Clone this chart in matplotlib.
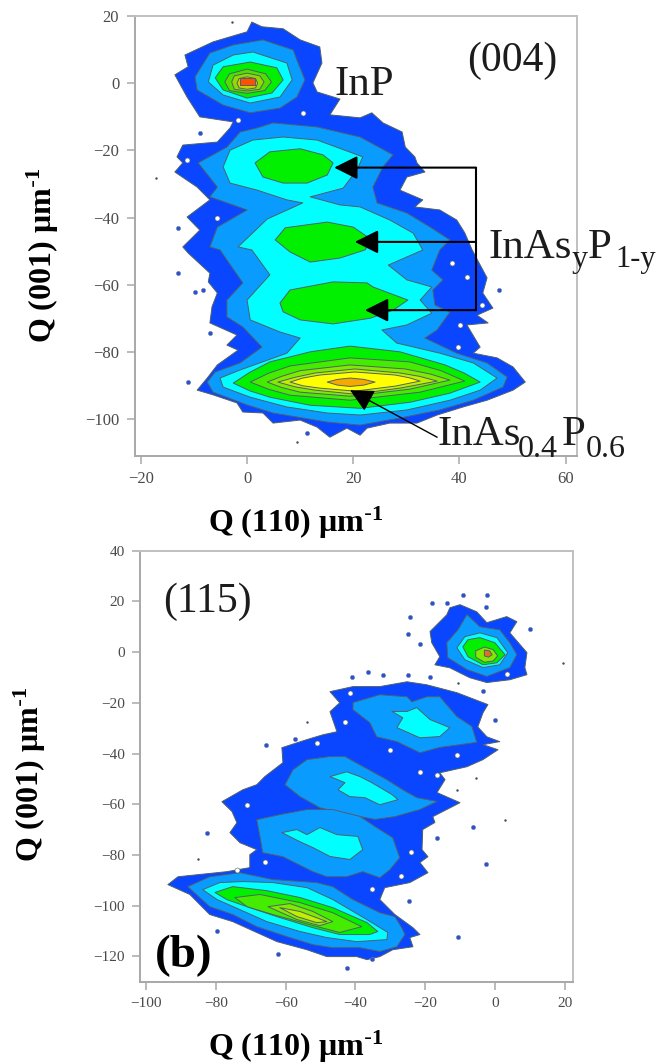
import matplotlib
matplotlib.use("Agg")
import matplotlib.pyplot as plt

plt.rcParams['font.family'] = ['Liberation Serif', 'DejaVu Serif']
plt.rcParams['mathtext.default'] = 'regular'

# contour colours, lowest to highest level
c_blue = '#0a46ff'
c_sky = '#0a9bff'
c_cyan = '#00ffff'
c_green = '#00f000'
c_lime1 = '#44ec00'
c_lime2 = '#80ea00'
c_lime3 = '#c0f000'
c_yellow = '#ffff00'
c_orange = '#f5a800'
c_red = '#ff5000'
edge = '#50606a'
spine = '#a8a8a8'

# ---- (004) map, contours, (Q110, Q001)
a_outer = [(0.9,18.2),(2.8,16.8),(6.8,16.2),(10,12.9),(13.7,10.8),(14.1,6),(12.4,0.1),(13.2,-2.6),(17.5,-4.7),
           (15.6,-9.4),(21.3,-10.3),(23.5,-8.8),(25.6,-11.8),(29.2,-14.5),(29.8,-19),(31.6,-21.9),(32,-23.7),
           (33.5,-26.4),(30.1,-27.9),(28.8,-31.8),(33.1,-34.7),(31.6,-36.8),(36.3,-37.7),(39.5,-40.7),(41,-44.5),
           (42.4,-49.6),(45.2,-57.9),(44.4,-62.4),(46.3,-66.9),(43.3,-69),(45.4,-71.3),(41.4,-71.9),(43.9,-78.5),
           (42.6,-80.3),(47.1,-81.7),(50.1,-84.4),(52.4,-88.9),(50.1,-91.3),(45.2,-94.3),(40.7,-96.3),(35.8,-98.7),
           (32,-101.1),(26.9,-101.1),(22.6,-102.6),(21.3,-104.7),(18.8,-102.6),(15.6,-105.3),(13.2,-102.3),(10,-100.2),
           (4.9,-101.1),(3,-98.1),(-0.8,-97.8),(-1.9,-95.1),(-6.4,-92.7),(-9.4,-91.3),(-7.5,-87.7),(-5.6,-83.8),
           (-1.7,-79.4),(-3.8,-77.9),(-1.9,-74.9),(-7,-71.3),(-6.6,-66.5),(-5.6,-62.4),(-7.3,-59.1),(-7,-56.5),
           (-11.1,-50.5),(-12.1,-48.7),(-8.9,-43.7),(-11.3,-39.8),(-7,-34.7),(-9.4,-30.9),(-13.6,-26.4),(-12.1,-23.7),
           (-13.2,-21.9),(-12.1,-18.4),(-5.6,-17.5),(-3.2,-13.3),(-2.6,-11.5),(-8.9,-10),(-11.3,-4.1),(-13.6,2.5),
           (-11.1,4.9),(-11.7,8.4),(-6.4,12.3),(0,15.3)]
a_sky_main = [(-1.3,-14.5),(1.9,-13.3),(4.9,-11.8),(13.2,-13),(21.3,-16),(27.5,-21.3),(25.6,-24.9),(23.7,-30.9),
              (24.5,-35.6),(30.1,-38.6),(34.5,-42.8),(38.2,-46.6),(36.3,-49.6),(34.8,-55.6),(36.9,-58.5),(35,-61.5),
              (35.4,-66),(38.2,-68.1),(35.8,-73.4),(33.5,-75.8),(39.5,-80.3),(45.2,-83.2),(49,-87.4),(48.2,-90.4),
              (42.6,-94.3),(36.3,-97.2),(28.8,-99.6),(21.3,-101.7),(15.1,-100.8),(4.9,-98.1),(0,-95.7),(-6.4,-91.9),
              (-7.5,-88.9),(-6,-85.9),(-1.3,-83.2),(2.8,-78.5),(-0.8,-72.5),(-3.8,-69.5),(-3.8,-64.5),(-0.8,-59.4),
              (-5.1,-49.6),(-7,-48.7),(-5.6,-42.8),(0,-37.7),(-7,-33.8),(-5.6,-30.9),(-9.2,-23.7),(-3.8,-19)]
a_cyan_main = [(1.1,-16.9),(6.8,-16),(13.2,-16.9),(21.8,-21.9),(20.7,-25.8),(18.1,-31.2),(11.9,-33.8),(17.5,-36.2),
               (21.3,-36.8),(26.9,-40.7),(31.3,-44.6),(33.1,-49.6),(26.6,-54.1),(30.1,-58.5),(34.8,-60.6),(32.6,-64.5),
               (34.8,-68.4),(30.1,-71.9),(25.4,-73.4),(28.2,-77.3),(36.3,-80.3),(42.6,-83.2),(47.1,-87.7),(43.9,-91.3),
               (38.2,-94.3),(30.1,-97.2),(21.3,-98.7),(15.1,-98.1),(7.5,-96.3),(0.6,-93.4),(-4.5,-90.4),(-5.1,-87.7),
               (-1.3,-85.3),(7.5,-80.3),(10,-75.8),(6.2,-74),(0.6,-70.4),(0,-64.5),(4.3,-57),(0.9,-49.6),(-1.7,-48.7),
               (3.8,-40.4),(10.5,-35.6),(7.5,-34.7),(1.9,-31.8),(-3.2,-29.7),(-4.5,-24.9),(-3.2,-19.9)]
a_green_1 = [(1.5,-23.7),(4.3,-20.4),(10,-19.5),(14.3,-21.3),(16.2,-23.7),(15.1,-27.3),(11.3,-29.7),(6.8,-29.7),(3,-27.9)]
a_green_2 = [(5.3,-46.6),(7.2,-43),(15.1,-41.3),(20,-42.8),(23.5,-46.6),(22.2,-49.6),(17.5,-52),(11.9,-53.2),(8.1,-50.2)]
a_green_3 = [(6.2,-65.4),(8.1,-61.5),(16.2,-59.1),(22.6,-59.4),(23.7,-60.6),(30.3,-64.5),(27.5,-67.5),(23.2,-69.9),
             (16.2,-71.6),(10,-70.4),(6.8,-68)]
# bottom layer peak
a_peak_green = [(-2.6,-89.2),(0.5,-86),(4.3,-82.9),(11.9,-79.9),(19.4,-78.2),(28.8,-79.9),(37.3,-83.8),(41,-86.3),(43.9,-88.9),
                (38.2,-92.2),(30.7,-94.9),(21.3,-96.7),(11.9,-95.8),(4.3,-93.4),(0.5,-91.5)]
a_peak_l1 = [(0.6,-88.9),(4,-86.3),(8.1,-84.1),(19.4,-81.7),(30.7,-82.9),(36.5,-85.5),(41,-88.6),(32.6,-91.9),(19.4,-94.3),(8.1,-92.8),(4,-91)]
a_peak_l2 = [(3.8,-88.9),(6.5,-87.2),(10,-85.5),(19.4,-83.8),(29.8,-85),(34.5,-86.5),(38.2,-88.3),(30.7,-91),(19.4,-93.1),(10,-91.9),(6.5,-90.5)]
a_peak_l3 = [(5.8,-88.9),(9,-87.5),(12.8,-86.2),(20.3,-85),(28.8,-86.2),(32.5,-87.2),(35.8,-88.6),(28.8,-90.7),(20.3,-92.5),(12.8,-91.3),(9,-90.3)]
a_peak_yellow = [(8.1,-88.9),(10.5,-87.7),(13.7,-86.8),(20.3,-85.9),(27.9,-86.8),(30.5,-87.6),(32.6,-88.6),(27.9,-90.1),(20.3,-91.6),
                 (13.7,-90.7),(10.5,-90)]
a_peak_orange = [(15.1,-88.9),(17,-88.1),(19.4,-87.7),(22,-88.1),(24.1,-88.9),(22,-89.8),(19.4,-90.2),(17,-89.8)]
# InP peak
a_inp_sky = [(3,12.9),(8.7,9.9),(9.4,6.9),(10.9,1),(9.4,-4.1),(6.2,-7.4),(0.6,-8.8),(-4.5,-6.5),(-9.4,-2),(-9.8,1.9),(-7,9),(-2.6,11.4)]
a_inp_cyan = [(1.1,9.3),(7.5,6),(8.5,1),(6.2,-4.1),(0.6,-5.9),(-4.5,-3.5),(-7.3,0.4),(-6.4,5.4),(-2.6,8.4)]
a_inp_green = [(0.6,6.3),(5.6,4.6),(6.8,1),(4.7,-2.9),(0,-4.4),(-4.5,-2),(-6,1.6),(-4.5,4.9)]
a_inp_l1 = [(0,4.2),(3.5,2.8),(4.6,0.4),(3.3,-2.2),(0,-3),(-3.3,-2.2),(-4.2,0.4),(-3.3,2.8)]
a_inp_l2 = [(0,3),(2.4,2.2),(3.2,0.4),(2.4,-1.8),(0,-2.3),(-2.4,-1.8),(-2.9,0.4),(-2.4,2.2)]
a_inp_l3 = [(0,1.9),(1.6,1.4),(2,0),(1.6,-1.4),(0,-1.8),(-1.5,-1.4),(-1.9,0),(-1.5,1.4)]
a_inp_red = [(-1.3,1.6),(1.5,1.6),(1.5,-0.5),(-1.3,-0.5)]

a_holes_x = [-1.7,10.5,-11.3,-5.6,38.6,41.4,44.3,40.1,39.7]
a_holes_y = [-11,-8.9,-22.8,-40,-53.6,-57.6,-66,-71.9,-78.5]
a_spots_x = [-8.9,-13,-13,-9.8,-8.3,-7,-11.1,11.3,47.5]
a_spots_y = [-14.8,-43,-56.5,-62,-61.5,-74.3,-88.9,-104,-61.5]
a_dots_x = [-2.8,-17.1,9.4]
a_dots_y = [18.2,-28.2,-106.7]

# ---- (115) map
b_outer_inp = [(-10,18.7),(-5.2,15.9),(-2.3,11.6),(3.4,14),(6.3,12),(4.3,7.6),(9.2,-0.2),(8.6,-6.1),(9.2,-8.9),(4.3,-10.9),
               (-2.3,-12),(-7.2,-10.1),(-12.9,-6.2),(-17.2,-5),(-15.8,-1.8),(-18.1,3.7),(-18.6,8.1),(-13.8,14.7),(-12.9,17.5)]
b_inp_sky = [(-8,14.8),(-4.3,10),(1.4,8.8),(4.3,3.7),(6.3,-1),(4.3,-6.1),(-2.3,-9.6),(-8,-6.9),(-13.5,-2.2),(-13.8,3.7),(-10.6,8.8)]
b_inp_cyan = [(-4.3,7.6),(0.6,5.7),(3.7,-0.2),(1.4,-5),(-3.4,-6.1),(-8.6,-3),(-10.9,1.7),(-8.6,6.1)]
b_inp_green = [(-4.3,5.7),(0,3.7),(2.9,-1),(0.6,-4.2),(-3.4,-5),(-7.7,-1.8),(-9.2,2.1),(-7.7,4.9)]
b_inp_l1 = [(-3,2),(-0.5,1),(0.8,-1.5),(-0.5,-3.5),(-3,-4),(-5.5,-2),(-5.5,0.5)]
b_inp_red = [(-3,0.8),(-1.5,0.5),(-0.8,-1),(-1.8,-2),(-3,-1.5)]
b_outer = [(-25.2,-11.7),(-19.5,-12.9),(-10.9,-16),(-2,-20.7),(-3.4,-23.9),(-4.9,-29.5),(-2.3,-33.4),(1.4,-35.3),(-3.4,-36.5),
           (0.9,-38.5),(-3.4,-42.4),(-8,-45.2),(-15.8,-47.6),(-14.3,-50.3),(-16.6,-55.4),(-10,-59.4),(-17.8,-64.9),(-17.2,-67.2),
           (-20.7,-70),(-20.9,-77.9),(-19.2,-80.7),(-21.5,-83),(-19.2,-87),(-24.4,-90.9),(-31.6,-92.9),(-33,-97.6),(-28.7,-103.5),
           (-23.5,-108.7),(-21.5,-111.4),(-24.4,-112.6),(-23.5,-116.2),(-29.3,-117.4),(-33,-120.1),(-36.7,-121.3),(-39.6,-120.1),
           (-48.2,-120.1),(-53.9,-117.4),(-62.5,-114.2),(-68.3,-110.6),(-75.2,-106.3),(-81.8,-103.5),(-87.5,-95.6),(-93.8,-91.7),
           (-90.9,-88.6),(-84.6,-87.7),(-76.9,-86.6),(-70.3,-85),(-70.3,-79.9),(-68.3,-77.9),(-73.1,-75.2),(-76,-71.2),(-74,-67.3),
           (-75.4,-62.9),(-78.3,-59),(-72.3,-54.3),(-68.3,-52.3),(-66,-49.1),(-60.8,-43.6),(-61.1,-37.7),(-53.9,-34.5),(-49.3,-32.6),
           (-45.3,-31.4),(-47.3,-23.5),(-44.5,-20),(-47.3,-15.6),(-40.7,-13.6),(-33,-13.6)]
b_sky_1 = [(-40.7,-19.9),(-33,-16.8),(-25.2,-17.6),(-23.8,-19.6),(-19.5,-17.6),(-15.8,-17.6),(-10.9,-25.4),(-6.6,-29.3),(-5.2,-35.6),
           (-15.8,-37.6),(-21.5,-39.7),(-28.1,-35.3),(-33.9,-33.4),(-35.9,-27.8),(-40.7,-22.7)]
b_cyan_1 = [(-29.5,-23.4),(-25.2,-23.4),(-22.4,-21.9),(-18.6,-26.6),(-12.9,-29.8),(-15.8,-33.3),(-21.5,-33.8),(-28.1,-29.8),(-26.4,-25.9)]
b_sky_2 = [(-57.9,-46.4),(-53.9,-42.4),(-47.3,-41.2),(-43,-41.2),(-31,-50.3),(-26.4,-54.3),(-22.4,-57.4),(-16.6,-58.9),(-21.5,-62.1),
           (-28.7,-64.9),(-34.4,-66),(-41.6,-64.1),(-50.2,-61.4),(-55.9,-57),(-60.2,-52.3)]
b_cyan_2 = [(-47.3,-49.1),(-42.5,-47.2),(-38.7,-49.1),(-35.3,-51.5),(-29.5,-56.2),(-27.8,-58.2),(-33,-60.2),(-37.3,-57.4),(-41.6,-57),
            (-45,-54.3),(-43,-51.5)]
b_sky_3 = [(-68.3,-66.1),(-61.7,-64.1),(-53.9,-62.1),(-46.5,-62.1),(-38.7,-64.8),(-34.4,-68.8),(-29.3,-73.2),(-27.3,-81.1),(-30.1,-85.8),
           (-33,-89),(-37.9,-86.6),(-42.5,-88.6),(-48.2,-88.6),(-52.2,-86.6),(-60.8,-80.7),(-66.6,-79.1),(-67.4,-72.7)]
b_cyan_3 = [(-61.1,-71.2),(-56.8,-70),(-53.9,-72),(-50.2,-69.2),(-45.3,-72),(-39.3,-72.7),(-37.9,-77.9),(-41.6,-81.8),(-47.3,-80.6),
            (-52.2,-77.1),(-55.9,-74.8)]
b_sky_4 = [(-88.1,-92.5),(-81.8,-88.6),(-73.1,-87),(-63.7,-89.7),(-51.1,-90.9),(-46.5,-92.5),(-40.7,-97.6),(-33,-102.8),(-28.7,-104.3),
           (-26.7,-108.7),(-25.8,-111.4),(-28.1,-116.2),(-33,-118.1),(-38.7,-116.6),(-46.5,-116.6),(-52.2,-115.4),(-59.7,-112.2),
           (-68.3,-108.3),(-75.2,-103.5),(-81.8,-100.4)]
b_cyan_4 = [(-83.8,-93.7),(-78.9,-90.9),(-72.3,-90.5),(-63.7,-90.9),(-53.9,-92.9),(-46.5,-97.6),(-36.7,-105.5),(-30.7,-110.6),(-31,-113.4),
            (-39.6,-114.2),(-48.2,-112.6),(-55.9,-110.2),(-65.4,-106.3),(-73.1,-101.6),(-79.7,-97.6)]
b_green_4 = [(-80.3,-94.8),(-75.2,-92.5),(-65.4,-94.1),(-55.9,-96.8),(-46.5,-100.8),(-36.7,-106.7),(-33.6,-110.2),(-35.9,-111.4),
             (-44.5,-111.4),(-52.2,-108.7),(-61.7,-104.7),(-70.3,-100.8),(-76.9,-97.6)]
b_l1_4 = [(-74.6,-96.8),(-67.4,-95.6),(-55.9,-98.8),(-46.5,-102.8),(-38.2,-108.3),(-44.5,-110.6),(-53.1,-107.5),(-63.7,-103.5),(-71.1,-100.4)]
b_l2_4 = [(-65.1,-100.4),(-58.8,-99.2),(-52.2,-102.3),(-46.5,-106.3),(-50.2,-107.9),(-56.8,-105.5)]
b_l3_4 = [(-61.7,-100.8),(-55.9,-102.3),(-48.2,-106.3),(-51.1,-106.7),(-56.8,-104.3)]

b_holes_x = [-24.1,-27,-10.9,-30.1,-41.6,-43,-21.5,-16.6,3.4,-35.3,-74,-71.1,-66,-51]
b_holes_y = [-78.7,-88.2,-40.5,-38.5,-16,-27.4,-47.2,-48.3,-8.5,-93.3,-85.8,-60.5,-82.6,-35.7]
b_spots_x = [-9.2,-18.1,-13.8,-2.3,-2.6,10,-25,-21.5,-24.4,-3.4,0,-41,-36.4,-32.1,-25,-18.6,-57.4,-65.7,-82.6,-79.7,-62.2,-42.5,-35.3,-6.3,-16.6,-2.6,-24.7,-10.6]
b_spots_y = [22.6,19.5,19.5,22.6,17.9,9.2,7.3,3.3,14,-15.5,-26.7,-9.7,-7.7,-8.9,-8.9,-9.7,-34.1,-36.5,-71.2,-109.9,-118.9,-124.4,-120.9,-68.8,-73.2,-83.4,-98,-112.2]
b_dots_x = [19.5,-10.6,-5.5,-10.9,-53.9,-85.2,2.9]
b_dots_y = [-4.2,-12,-49.5,-54.3,-27.4,-81.5,-66.1]

a_xticks = [-20, 0, 20, 40, 60]
a_yticks = [20, 0, -20, -40, -60, -80, -100]
b_xticks = [-100, -80, -60, -40, -20, 0, 20]
b_yticks = [40, 20, 0, -20, -40, -60, -80, -100, -120]

a_layers = [(a_outer, c_blue), (a_sky_main, c_sky), (a_inp_sky, c_sky), (a_inp_cyan, c_cyan), (a_inp_green, c_green),
            (a_inp_l1, '#50e000'), (a_inp_l2, '#90dc00'), (a_inp_l3, '#c8d400'), (a_inp_red, c_red),
            (a_cyan_main, c_cyan), (a_green_1, c_green), (a_green_2, c_green), (a_green_3, c_green),
            (a_peak_green, c_green), (a_peak_l1, c_lime1), (a_peak_l2, c_lime2), (a_peak_l3, c_lime3),
            (a_peak_yellow, c_yellow), (a_peak_orange, c_orange)]
b_layers = [(b_outer_inp, c_blue), (b_inp_sky, c_sky), (b_inp_cyan, c_cyan), (b_inp_green, c_green), (b_inp_l1, c_lime2),
            (b_inp_red, '#e07020'), (b_outer, c_blue), (b_sky_1, c_sky), (b_cyan_1, c_cyan), (b_sky_2, c_sky),
            (b_cyan_2, c_cyan), (b_sky_3, c_sky), (b_cyan_3, c_cyan), (b_sky_4, c_sky), (b_cyan_4, c_cyan),
            (b_green_4, c_green), (b_l1_4, c_lime1), (b_l2_4, c_lime2), (b_l3_4, c_lime3)]


def draw_map(ax, layers, holes, spots, dots):
    for pts, col in layers:
        xs, ys = zip(*pts)
        ax.fill(xs, ys, facecolor=col, edgecolor=edge, lw=0.7, joinstyle='round')
    ax.scatter(holes[0], holes[1], s=13, color='white', edgecolors=edge, linewidths=0.4, zorder=3)
    ax.scatter(spots[0], spots[1], s=9, color='#2850d8', edgecolors='#7080a0', linewidths=0.4, zorder=3)
    ax.scatter(dots[0], dots[1], s=3, color='#404860', linewidths=0, zorder=3)


def style_axes(ax, xticks, yticks, size):
    ax.set_xticks(xticks)
    ax.set_yticks(yticks)
    ax.tick_params(length=6, width=1.1, color=spine, labelcolor='#4a4a4a', labelsize=size, pad=5)
    for s in ax.spines.values():
        s.set_color(spine)
        s.set_linewidth(1.4)
    ax.spines['top'].set_color('#c0c0c0')
    ax.spines['right'].set_color('#c0c0c0')


fig = plt.figure(figsize=(6.56, 10.64), dpi=100)

ax1 = fig.add_axes([134.5/656, 1-455.7/1064, 442/656, 439.7/1064])
ax1.set_xlim(-21.2, 62.05)
ax1.set_ylim(-110.8, 20)
draw_map(ax1, a_layers, (a_holes_x, a_holes_y), (a_spots_x, a_spots_y), (a_dots_x, a_dots_y))
style_axes(ax1, a_xticks, a_yticks, 12)
ax1.set_xlabel(r'Q (110) μm$^{\text{-}1}$', fontsize=23, fontweight='bold', va='center')
ax1.xaxis.set_label_coords(0.364, -0.153)
ax1.set_ylabel(r'Q (001) μm$^{\text{-}1}$', fontsize=23, fontweight='bold', va='center')
ax1.yaxis.set_label_coords(-0.207, 0.456)

ink = '#1c1c1c'
ax1.text(16.4, -3.5, 'InP', fontsize=31, color=ink, zorder=6)
ax1.text(41.5, 3.5, '(004)', fontsize=30, color=ink, zorder=6)
ax1.text(45.4, -52, 'InAs', fontsize=31, color=ink, zorder=6)
ax1.text(61.2, -54.7, 'y', fontsize=23, color=ink, zorder=6)
ax1.text(64.2, -52, 'P', fontsize=31, color=ink, zorder=6)
ax1.text(69.3, -54.7, '1-y', fontsize=22, color=ink, zorder=6)
ax1.text(35.8, -107.6, 'InAs', fontsize=31, color=ink, zorder=6)
ax1.text(51, -111.2, '0.4', fontsize=23, color=ink, zorder=6)
ax1.text(59.3, -107.6, 'P', fontsize=31, color=ink, zorder=6)
ax1.text(63.7, -111.2, '0.6', fontsize=23, color=ink, zorder=6)

# arrows to the layer peaks
arrow_y = [-25.1, -47.2, -67.5]
arrow_tip = [16.4, 20.3, 22.2]
arrow_tail = 43.1
ax1.plot([arrow_tail, arrow_tail], [arrow_y[0], arrow_y[2]], color='black', lw=1.5, zorder=5)
for y, tip in zip(arrow_y, arrow_tip):
    ax1.annotate('', xy=(tip, y), xytext=(arrow_tail, y), zorder=5,
                 arrowprops=dict(arrowstyle='-|>,head_length=0.4,head_width=0.2', mutation_scale=36,
                                 color='black', lw=1.5, shrinkA=0, shrinkB=0))
ax1.annotate('', xy=(19.4, -91.3), xytext=(35.8, -105.3), zorder=5,
             arrowprops=dict(arrowstyle='-|>,head_length=0.4,head_width=0.2', mutation_scale=36,
                             color='black', lw=1.0, shrinkA=0, shrinkB=0))

ax2 = fig.add_axes([140/656, 1-981.7/1064, 433.3/656, 431/1064])
ax2.set_xlim(-101.8, 22.5)
ax2.set_ylim(-130, 40)
draw_map(ax2, b_layers, (b_holes_x, b_holes_y), (b_spots_x, b_spots_y), (b_dots_x, b_dots_y))
style_axes(ax2, b_xticks, b_yticks, 11)
ax2.set_xlabel(r'Q (110) μm$^{\text{-}1}$', fontsize=23, fontweight='bold', va='center')
ax2.xaxis.set_label_coords(0.36, -0.152)
ax2.set_ylabel(r'Q (001) μm$^{\text{-}1}$', fontsize=23, fontweight='bold', va='center')
ax2.yaxis.set_label_coords(-0.254, 0.48)

ax2.text(-95.2, 15.9, '(115)', fontsize=30, color=ink, zorder=6)
ax2.text(-97.5, -124.4, '(b)', fontsize=34, fontweight='bold', color='black', zorder=6)

fig.savefig('out.png', dpi=100, facecolor='white')
